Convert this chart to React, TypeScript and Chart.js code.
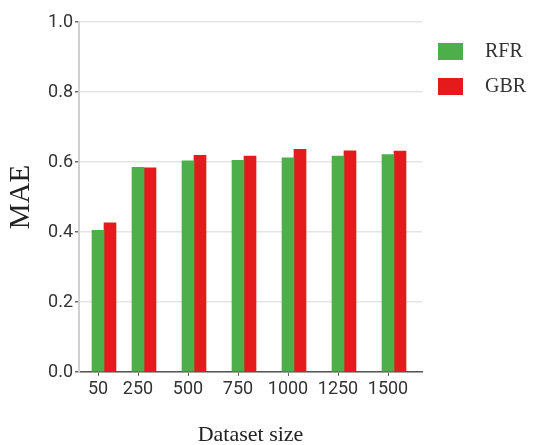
import React, { useEffect, useRef } from "react";
import { Chart, registerables } from "chart.js";

Chart.register(...registerables);

const SIZES = [50, 250, 500, 750, 1000, 1250, 1500];
const RFR = [0.405, 0.585, 0.603, 0.605, 0.612, 0.617, 0.621];
const GBR = [0.426, 0.583, 0.619, 0.617, 0.636, 0.632, 0.631];
const Y_TICKS = [0, 0.2, 0.4, 0.6, 0.8, 1.0];
const SERIES_NAMES = ["RFR", "GBR"];
const SERIES_COLORS = ["#4daf4a", "#e41a1c"];
const DODGE = 60; // data-unit offset of second bar (one bar width)

const TICK_FONT = "'Liberation Sans Narrow', Roboto, 'Liberation Sans', sans-serif";
const SERIF = "'Liberation Serif', 'DejaVu Serif', serif";

const legendPlugin = {
  id: "sideLegend",
  afterDraw(chart: any) {
    const { ctx, chartArea } = chart;
    ctx.save();
    chart.data.datasets.forEach((ds: any, i: number) => {
      const bx = chartArea.right + 16;
      const by = chartArea.top + 21 + i * 35;
      ctx.fillStyle = ds.backgroundColor;
      ctx.fillRect(bx, by, 25, 17);
      ctx.fillStyle = "#333";
      ctx.font = `20px ${SERIF}`;
      ctx.textBaseline = "middle";
      ctx.textAlign = "left";
      ctx.fillText(ds.label, bx + 47, by + 9);
    });
    ctx.restore();
  },
};

export default function App() {
  const ref = useRef<HTMLCanvasElement | null>(null);
  useEffect(() => {
    if (!ref.current) return;
    const chart = new Chart(ref.current, {
      type: "bar",
      data: {
        datasets: [
          {
            label: SERIES_NAMES[0],
            data: SIZES.map((s, i) => ({ x: s, y: RFR[i] })),
            backgroundColor: SERIES_COLORS[0],
          },
          {
            label: SERIES_NAMES[1],
            data: SIZES.map((s, i) => ({ x: s + DODGE, y: GBR[i] })),
            backgroundColor: SERIES_COLORS[1],
          },
        ],
      },
      options: {
        animation: false,
        responsive: true,
        maintainAspectRatio: false,
        layout: { padding: { left: 0, right: 127, top: 22, bottom: 0 } },
        datasets: {
          bar: {
            grouped: false,
            barPercentage: 1,
            categoryPercentage: 1,
            maxBarThickness: 12,
            borderWidth: 0,
          },
        } as any,
        plugins: {
          legend: { display: false },
          tooltip: { enabled: false },
        },
        scales: {
          x: {
            type: "linear",
            min: -45,
            max: 1670,
            offset: false,
            afterBuildTicks: (axis: any) => {
              axis.ticks = SIZES.map((v) => ({ value: v }));
            },
            afterFit: (scale: any) => {
              scale.height = 73;
            },
            ticks: {
              color: "#333",
              font: { family: TICK_FONT, size: 18 },
              padding: 3,
              maxRotation: 0,
              autoSkip: false,
              callback: (v: any) => String(v),
            },
            grid: {
              display: true,
              offset: false,
              drawOnChartArea: false,
              drawTicks: true,
              tickLength: 4,
              tickColor: "#666",
            },
            border: { display: true, color: "#555", width: 1.5 },
            title: {
              display: true,
              text: "Dataset size",
              color: "#222",
              font: { family: SERIF, size: 22 },
              padding: { top: 0, bottom: -3 },
            },
          },
          y: {
            type: "linear",
            min: 0,
            max: 1,
            afterBuildTicks: (axis: any) => {
              axis.ticks = Y_TICKS.map((v) => ({ value: v }));
            },
            afterFit: (scale: any) => {
              scale.width = 79;
            },
            ticks: {
              color: "#333",
              font: { family: TICK_FONT, size: 18 },
              padding: 2,
              callback: (v: any) => Number(v).toFixed(1),
            },
            grid: {
              color: "#e4e4e4",
              lineWidth: 1.5,
              drawTicks: true,
              tickLength: 4,
              tickColor: "#666",
            },
            border: { display: true, color: "#cfcfcf", width: 2 },
            title: {
              display: true,
              text: "MAE",
              color: "#222",
              font: { family: SERIF, size: 29 },
              padding: { top: 4, bottom: 0 },
            },
          },
        },
      },
      plugins: [legendPlugin],
    });
    return () => chart.destroy();
  }, []);

  return (
    <div style={{ position: "fixed", left: 0, top: 0, width: 549, height: 445, background: "#fff" }}>
      <canvas ref={ref} />
    </div>
  );
}
